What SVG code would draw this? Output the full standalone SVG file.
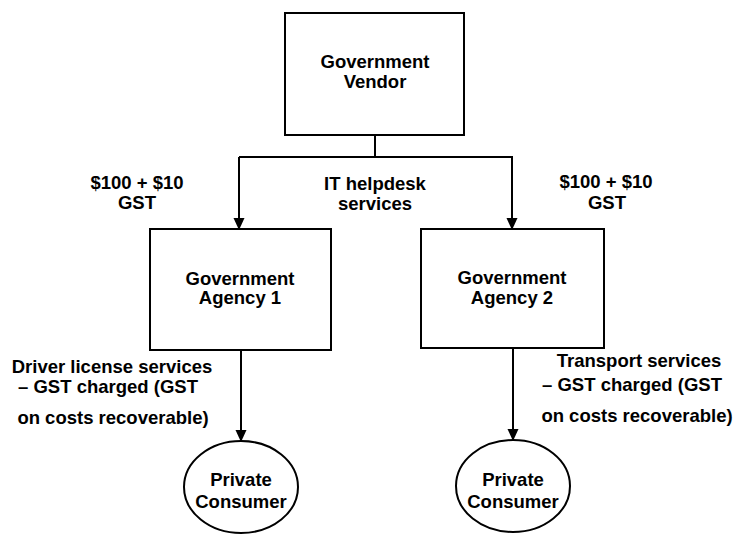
<svg xmlns="http://www.w3.org/2000/svg" width="735" height="537" viewBox="0 0 735 537">
  <defs>
    <style>
      .box { fill: #ffffff; stroke: #000000; stroke-width: 2; }
      .edge { fill: none; stroke: #000000; stroke-width: 2; }
      .lbl { font-family: "Liberation Sans", Arial, Helvetica, sans-serif; font-weight: bold; font-size: 18.5px; fill: #000000; text-anchor: middle; }
    </style>
    <marker id="arrow" viewBox="0 0 12 12" refX="11" refY="6" markerWidth="12" markerHeight="12" markerUnits="userSpaceOnUse" orient="auto">
      <path d="M0,0.5 L12,6 L0,11.5 Z" fill="#000000"/>
    </marker>
  </defs>
  <rect width="735" height="537" fill="#ffffff"/>

  <!-- connectors -->
  <g id="connectors">
    <path class="edge" d="M375,135 L375,157"/>
    <path class="edge" d="M239,157 L513,157"/>
    <path class="edge" d="M239,157 L239,229" marker-end="url(#arrow)"/>
    <path class="edge" d="M512,157 L512,229" marker-end="url(#arrow)"/>
    <path class="edge" d="M241,350 L241,441" marker-end="url(#arrow)"/>
    <path class="edge" d="M513,348 L513,440" marker-end="url(#arrow)"/>
  </g>

  <!-- edge labels -->
  <g id="edge-labels" class="lbl">
    <text x="137" y="189">$100 + $10</text>
    <text x="137" y="209">GST</text>
    <text x="375" y="190">IT helpdesk</text>
    <text x="375" y="210">services</text>
    <text x="606" y="188">$100 + $10</text>
    <text x="607" y="209">GST</text>
    <text x="112" y="373">Driver license services</text>
    <text x="108" y="393">– GST charged (GST</text>
    <text x="113" y="424">on costs recoverable)</text>
    <text x="639" y="367">Transport services</text>
    <text x="632" y="391">– GST charged (GST</text>
    <text x="637" y="422">on costs recoverable)</text>
  </g>

  <g id="vendor">
    <rect class="box" x="285" y="13" width="179" height="122"/>
    <text class="lbl" x="375" y="68">Government</text>
    <text class="lbl" x="375" y="88">Vendor</text>
  </g>

  <g id="agency1">
    <rect class="box" x="150" y="229" width="181" height="121"/>
    <text class="lbl" x="240" y="285">Government</text>
    <text class="lbl" x="240" y="304">Agency 1</text>
  </g>

  <g id="agency2">
    <rect class="box" x="421" y="229" width="183" height="119"/>
    <text class="lbl" x="512" y="284">Government</text>
    <text class="lbl" x="512" y="304">Agency 2</text>
  </g>

  <g id="consumer1">
    <ellipse class="box" cx="241" cy="487" rx="57" ry="46"/>
    <text class="lbl" x="241" y="486">Private</text>
    <text class="lbl" x="241" y="508">Consumer</text>
  </g>

  <g id="consumer2">
    <ellipse class="box" cx="513" cy="486" rx="57" ry="46"/>
    <text class="lbl" x="513" y="486">Private</text>
    <text class="lbl" x="513" y="508">Consumer</text>
  </g>
</svg>
